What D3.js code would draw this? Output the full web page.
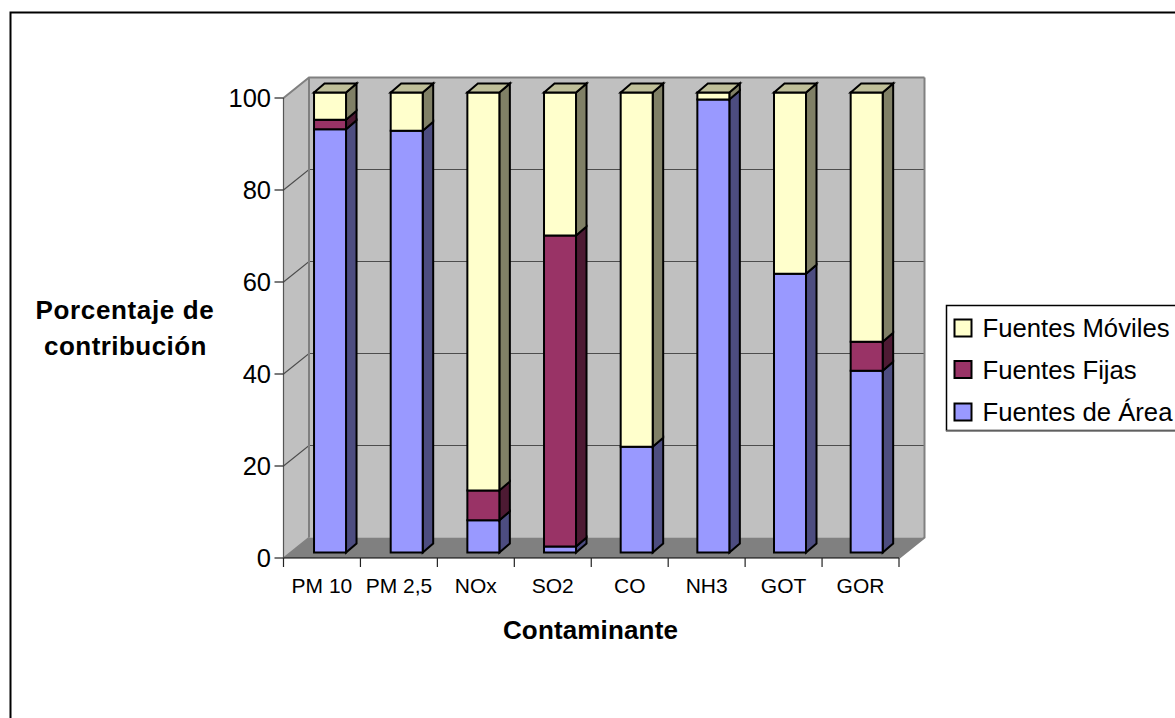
<!DOCTYPE html>
<html><head><meta charset="utf-8">
<script src="https://cdn.jsdelivr.net/npm/d3@7/dist/d3.min.js"></script>
<style>html,body{margin:0;padding:0;background:#fff;overflow:hidden}svg{display:block}text{font-family:"Liberation Sans",Arial,sans-serif;fill:#000}</style>
</head><body><svg id="c" width="1175" height="718"></svg>
<script>
const categories=["PM 10","PM 2,5","NOx","SO2","CO","NH3","GOT","GOR"];
const seriesNames=["Fuentes de Área","Fuentes Fijas","Fuentes Móviles"];
const area=[92,91.7,7,1.3,23,98.5,60.6,39.5];
const fijas=[2.1,0,6.5,67.6,0,0,0,6.3];
const moviles=[5.9,8.3,86.5,31.1,77,1.5,39.4,54.2];
const yTicks=[0,20,40,60,80,100];
const fills=["#9999FF","#993366","#FFFFCC"];
const sides=["#4D4D80","#4D1A33","#808066"];
const topFill="#BFBF99";

const svg=d3.select("#c");
const L=283.5,R=899,Y0=558,Y100=98;
const wallDx=25.5,wallDy=-20.5,barShiftY=-5.5,barDx=10.5,barDy=-9,barW=32;
const x=d3.scaleBand().domain(categories).range([L,R]);
const xBar=d3.scaleBand().domain(categories).range([L+8.2,R+6]);
const y=d3.scaleLinear().domain([0,100]).range([Y0,Y100]);
const poly=(pts,f,s,w)=>svg.append("path").attr("d","M"+pts.map(p=>p.join(",")).join("L")+"Z").attr("fill",f).attr("stroke",s||"none").attr("stroke-width",w||0).attr("stroke-linejoin","miter");

// outer frame
svg.append("path").attr("d","M10.5,718V12.5H1175").attr("fill","none").attr("stroke","#000").attr("stroke-width",2);

// walls and floor
poly([[L+wallDx,Y100+wallDy],[R+wallDx,Y100+wallDy],[R+wallDx,Y0+wallDy],[L+wallDx,Y0+wallDy]],"#C0C0C0");
poly([[L,Y100],[L+wallDx,Y100+wallDy],[L+wallDx,Y0+wallDy],[L,Y0]],"#C0C0C0");
poly([[L,Y0],[L+wallDx,Y0+wallDy],[R+wallDx,Y0+wallDy],[R,Y0]],"#808080");

// gridlines
yTicks.filter(t=>t>0).forEach(t=>{
  svg.append("path").attr("d",`M${L},${y(t)}L${L+wallDx},${y(t)+wallDy}H${R+wallDx}`)
    .attr("fill","none").attr("stroke",t===100?"#808080":"#4d4d4d").attr("stroke-width",t===100?2:1.2);
});
// wall edges
svg.append("path").attr("d",`M${L+wallDx},${Y100+wallDy}V${Y0+wallDy}`).attr("stroke","#808080").attr("stroke-width",2).attr("fill","none");
svg.append("path").attr("d",`M${R+wallDx},${Y100+wallDy}V${Y0+wallDy}L${R},${Y0}`).attr("stroke","#808080").attr("stroke-width",2).attr("fill","none");
svg.append("path").attr("d",`M${L},${Y0}L${L+wallDx},${Y0+wallDy}`).attr("stroke","#808080").attr("stroke-width",1.5).attr("fill","none");

// bars
const seriesVals=[area,fijas,moviles];
categories.forEach((c,i)=>{
  const x0=xBar(c)+(xBar.bandwidth()-barW)/2, x1=x0+barW;
  let acc=0;
  seriesVals.forEach((vals,s)=>{
    const v=vals[i]; if(!v) return;
    const yb=y(acc)+barShiftY, yt=y(acc+v)+barShiftY;
    acc+=v;
    poly([[x1,yt],[x1+barDx,yt+barDy],[x1+barDx,yb+barDy],[x1,yb]],sides[s],"#000",2);
    poly([[x0,yt],[x1,yt],[x1,yb],[x0,yb]],fills[s],"#000",2);
    if(s===2||acc>=99.99) poly([[x0,yt],[x0+barDx,yt+barDy],[x1+barDx,yt+barDy],[x1,yt]],topFill,"#000",2);
  });
});

// x axis
svg.append("path").attr("d",`M${L},${Y0}H${R}`).attr("stroke","#000").attr("stroke-width",1.2);
svg.append("path").attr("d",`M${L},${Y100}V${Y0}`).attr("stroke","#555").attr("stroke-width",1.2);
[...categories.map(c=>x(c)),R].forEach(v=>svg.append("path").attr("d",`M${v},${Y0}V${Y0+9}`).attr("stroke","#222").attr("stroke-width",1.2));
categories.forEach(c=>svg.append("text").attr("x",x(c)+x.bandwidth()/2).attr("y",593).attr("text-anchor","middle").attr("font-size",21).text(c));

// y axis
yTicks.forEach(t=>{
  svg.append("path").attr("d",`M${L-9},${y(t)}H${L}`).attr("stroke","#222").attr("stroke-width",1.2);
  svg.append("text").attr("x",L-12.5).attr("y",y(t)+9).attr("text-anchor","end").attr("font-size",25.5).text(t);
});

// titles
const bold=(tx,ty,t,ls)=>svg.append("text").attr("x",tx).attr("y",ty).attr("text-anchor","middle").attr("font-size",26).attr("font-weight","bold").attr("letter-spacing",ls).text(t);
bold(125,318.5,"Porcentaje de",0.65);
bold(125.5,355,"contribución",0.45);
bold(590.5,638.5,"Contaminante",0.15);

// legend
svg.append("rect").attr("x",946.5).attr("y",305.5).attr("width",240).attr("height",125).attr("fill","#fff").attr("stroke","#000").attr("stroke-width",1.5);
svg.append("path").attr("d","M946,431H1175").attr("stroke","#808080").attr("stroke-width",1.5);
[2,1,0].forEach((s,k)=>{
  const ly=[319.5,361,403.5][k];
  svg.append("rect").attr("x",954.5).attr("y",ly).attr("width",17).attr("height",17).attr("fill",fills[s]).attr("stroke","#000").attr("stroke-width",2);
  svg.append("text").attr("x",982.5).attr("y",[337,379,420.5][k]).attr("font-size",25.7).text(seriesNames[s]);
});
</script></body></html>
